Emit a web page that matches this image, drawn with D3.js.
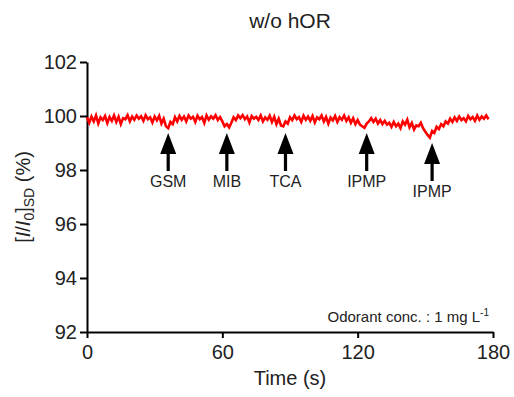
<!DOCTYPE html>
<html>
<head>
<meta charset="utf-8">
<script src="https://cdn.jsdelivr.net/npm/d3@7"></script>
<style>
body { margin: 0; background: #fff; }
text { font-family: Arial, "Liberation Sans", sans-serif; fill: #222; }
.axis path, .axis line { stroke: #000; stroke-width: 2; }
.axis text { font-size: 20px; fill: #222; }
</style>
</head>
<body>
<svg width="514" height="397"></svg>
<script>
// signal, one value per second starting at t = 0
var signal = [
    99.95, 99.75, 99.98, 99.80, 100.02, 99.72, 99.95, 99.85, 100.0, 99.74, 99.96,
    99.82, 100.02, 99.78, 99.97, 99.70, 99.92, 99.88, 100.03, 99.80, 99.98,
    99.86, 100.02, 99.90, 99.99, 99.82, 100.03, 99.88, 99.95, 99.76, 99.98,
    99.84, 100.01, 99.72, 99.90, 99.62, 99.55, 99.78, 99.70, 99.96, 99.80,
    100.0, 99.86, 99.98, 99.80, 100.02, 99.90, 99.97, 99.78, 100.01, 99.88,
    99.96, 99.74, 100.02, 99.86, 99.99, 99.90, 100.03, 99.85, 99.96, 99.80,
    99.62, 99.70, 99.58, 99.75, 99.95, 99.85, 100.02, 99.92, 100.03, 99.88,
    99.98, 99.76, 100.0, 99.90, 99.97, 99.85, 100.02, 99.80, 99.95, 99.86,
    100.01, 99.78, 99.97, 99.70, 99.90, 99.65, 99.62, 99.80, 99.72, 99.95,
    99.85, 100.02, 99.88, 99.96, 99.78, 100.01, 99.86, 99.98, 99.82, 100.0,
    99.76, 99.95, 99.88, 100.02, 99.80, 99.97, 99.72, 99.94, 99.84, 100.0,
    99.78, 99.96, 99.86, 100.02, 99.82, 99.95, 99.75, 99.92, 99.70, 99.85,
    99.68, 99.62, 99.56, 99.72, 99.80, 99.92, 99.78, 99.90, 99.72, 99.85,
    99.70, 99.82, 99.68, 99.75, 99.60, 99.78, 99.62, 99.72, 99.55, 99.80,
    99.68, 99.86, 99.58, 99.74, 99.50, 99.65, 99.62, 99.75, 99.55, 99.42,
    99.30, 99.20, 99.45, 99.38, 99.60, 99.52, 99.70, 99.62, 99.80, 99.72,
    99.90, 99.78, 99.95, 99.82, 99.98, 99.85, 99.92, 99.80, 100.0, 99.88,
    99.96, 99.82, 100.02, 99.86, 99.98, 99.90, 100.02, 99.88
];

// odorant injections
var odorants = ["GSM", "MIB", "TCA", "IPMP", "IPMP"];
var injectTimes = [36, 62, 88, 124, 153];
var arrowTips = [99.37, 99.37, 99.37, 99.37, 99.0];

var xTicks = [0, 60, 120, 180];
var yTicks = [92, 94, 96, 98, 100, 102];

var svg = d3.select("svg");
var margin = {"top": 62, "right": 21, "bottom": 65, "left": 87};
var width = +svg.attr("width") - margin.left - margin.right;
var height = +svg.attr("height") - margin.top - margin.bottom;

var g = svg.append("g").attr("transform", "translate(" + margin.left + "," + margin.top + ")");

var x = d3.scaleLinear().domain([0, 180]).range([0, width]);
var y = d3.scaleLinear().domain([92, 102]).range([height, 0]);

g.append("g")
    .attr("class", "axis")
    .call(d3.axisLeft(y).tickValues(yTicks).tickSize(7).tickSizeOuter(0).tickPadding(3));

g.append("g")
    .attr("class", "axis")
    .attr("transform", "translate(0," + height + ")")
    .call(d3.axisBottom(x).tickValues(xTicks).tickSize(6).tickSizeOuter(0).tickPadding(7));

var line = d3.line()
    .x(function (d, i) { return x(i); })
    .y(function (d) { return y(d); });

g.append("path")
    .datum(signal)
    .attr("fill", "none")
    .attr("stroke", "#ff0000")
    .attr("stroke-width", 2.6)
    .attr("stroke-linejoin", "miter")
    .attr("d", line);

// arrows with labels
var arrows = g.selectAll(".arrow")
    .data(odorants.map(function (n, i) { return {name: n, t: injectTimes[i], tip: arrowTips[i]}; }))
    .enter().append("g")
    .attr("class", "arrow")
    .attr("transform", function (d) { return "translate(" + x(d.t) + "," + y(d.tip) + ")"; });

arrows.append("path")
    .attr("d", "M0,0 L8,21 L1.6,21 L1.6,38 L-1.6,38 L-1.6,21 L-8,21 Z")
    .attr("fill", "#000");

arrows.append("text")
    .attr("y", 54)
    .attr("text-anchor", "middle")
    .style("font-size", "16px")
    .text(function (d) { return d.name; });

// title
svg.append("text")
    .attr("x", margin.left + width / 2)
    .attr("y", 28)
    .attr("text-anchor", "middle")
    .style("font-size", "21px")
    .text("w/o hOR");

// x label
svg.append("text")
    .attr("x", margin.left + width / 2)
    .attr("y", 385)
    .attr("text-anchor", "middle")
    .style("font-size", "20px")
    .text("Time (s)");

// y label
var yl = svg.append("text")
    .attr("transform", "translate(30," + (margin.top + height / 2) + ") rotate(-90)")
    .attr("text-anchor", "middle")
    .style("font-size", "20px");
yl.append("tspan").text("[");
yl.append("tspan").style("font-style", "italic").text("I");
yl.append("tspan").text("/");
yl.append("tspan").style("font-style", "italic").text("I");
yl.append("tspan").attr("dy", 4).style("font-size", "14px").text("0");
yl.append("tspan").attr("dy", -4).text("]");
yl.append("tspan").attr("dy", 4).style("font-size", "14px").text("SD");
yl.append("tspan").attr("dy", -4).text(" (%)");

// concentration note
var note = svg.append("text")
    .attr("x", 489)
    .attr("y", 322)
    .attr("text-anchor", "end")
    .style("font-size", "15px");
note.append("tspan").text("Odorant conc. : 1 mg L");
note.append("tspan").attr("dy", -6).style("font-size", "10px").text("-1");
</script>
</body>
</html>
